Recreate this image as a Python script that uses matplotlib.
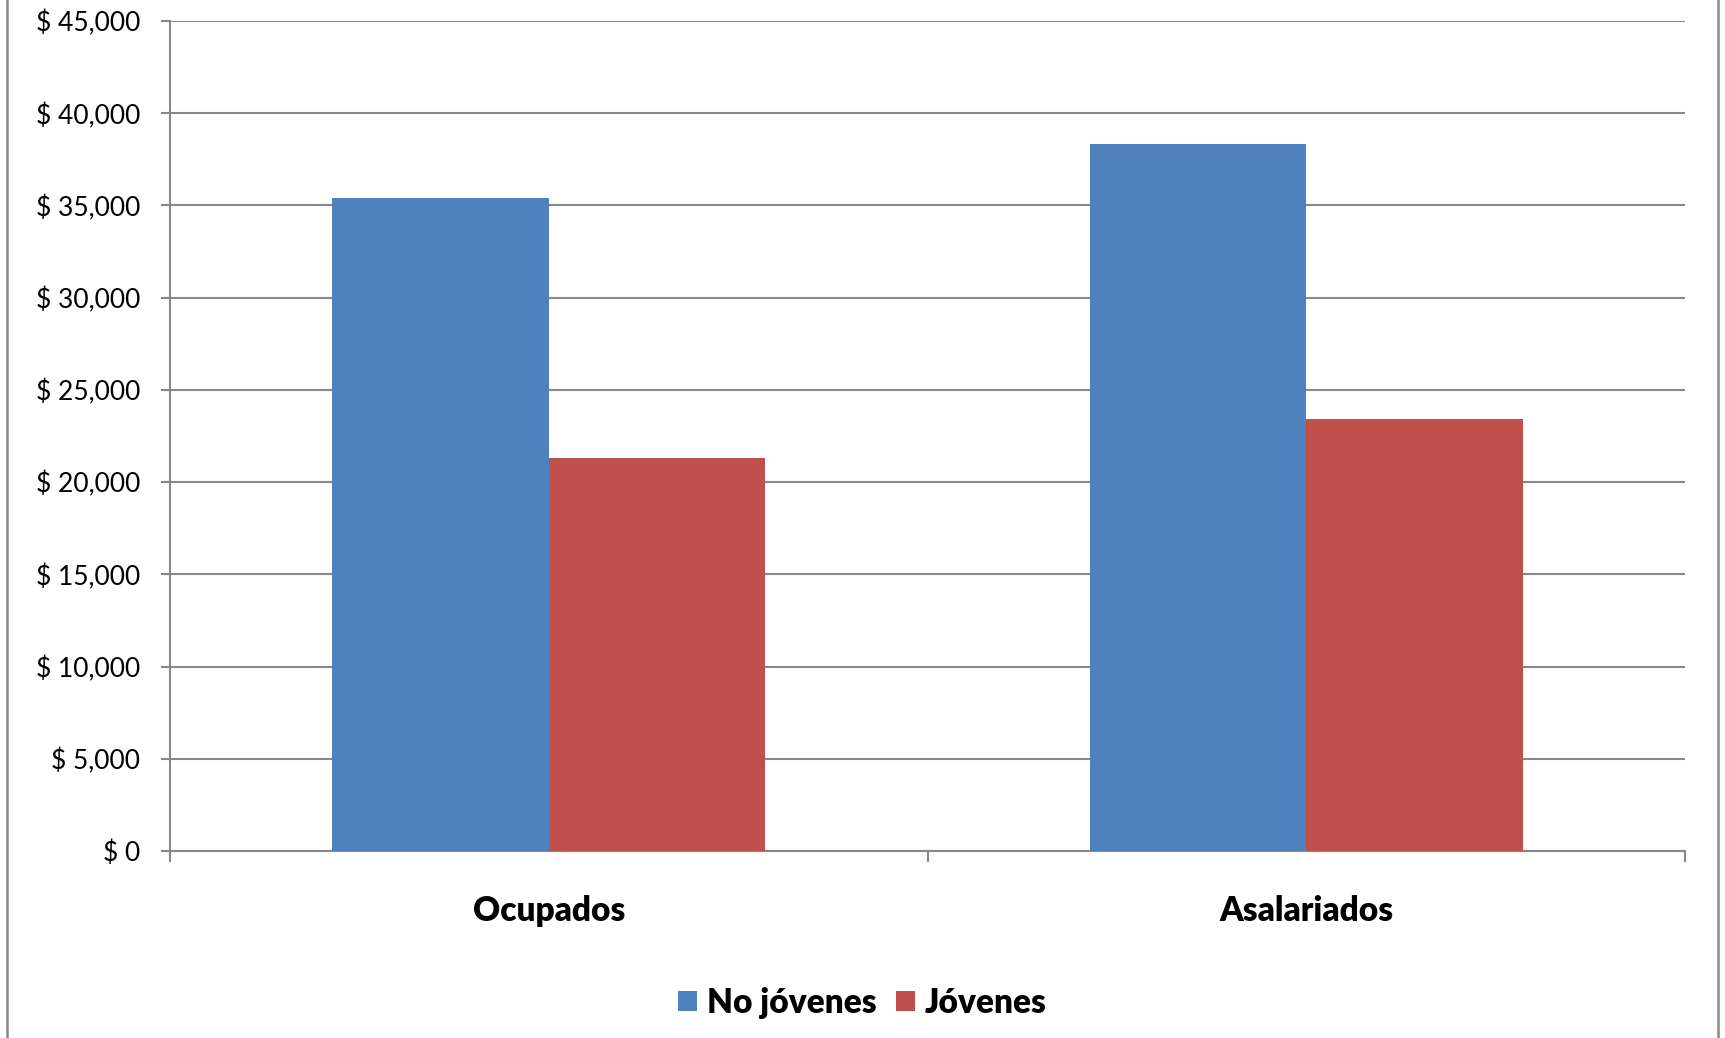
import matplotlib
matplotlib.use("Agg")
import matplotlib.pyplot as plt
import numpy as np
from matplotlib.lines import Line2D

plt.rcParams['font.family'] = ['Lato', 'DejaVu Sans']

categories = ["Ocupados", "Asalariados"]
series_names = ["No jóvenes", "Jóvenes"]
no_jovenes = [35400, 38350]
jovenes = [21330, 23400]
y_ticks = list(range(0, 45001, 5000))

blue = "#4F81BD"
red = "#C0504D"
grey = "#888888"

fig = plt.figure(figsize=(17.25, 10.38), dpi=100)
ax = fig.add_axes([170 / 1725, 1 - 851 / 1038, 1515 / 1725, 830 / 1038])

x = np.arange(len(categories))
w = 0.286
ax.bar(x - w / 2, no_jovenes, w, color=blue, label=series_names[0], zorder=3)
ax.bar(x + w / 2, jovenes, w, color=red, label=series_names[1], zorder=3)

ax.set_xlim(-0.5, len(categories) - 0.5)
ax.set_ylim(0, 45000)
ax.set_yticks(y_ticks)
ax.set_yticklabels(["$ {:,}".format(v) for v in y_ticks], fontsize=19)
ax.yaxis.grid(True, color=grey, linewidth=1.5, zorder=0)
ax.set_axisbelow(True)

# category labels between boundary ticks
ax.set_xticks(np.arange(-0.5, len(categories), 1.0))
ax.set_xticklabels([])
ax.set_xticks(x, minor=True)
ax.set_xticklabels(categories, minor=True, fontsize=24, fontweight='heavy')
ax.tick_params(axis='x', which='minor', length=0, pad=32)
ax.tick_params(axis='x', which='major', length=8, width=1.5, color=grey, direction='out')
ax.tick_params(axis='y', length=6.5, width=1.5, color=grey, pad=15)

for s in ['top', 'right']:
    ax.spines[s].set_visible(False)
for s in ['left', 'bottom']:
    ax.spines[s].set_color(grey)
    ax.spines[s].set_linewidth(1.5)

fig.legend(loc='center', bbox_to_anchor=(0.5, 1 - 1003 / 1038), ncol=2, frameon=False,
           prop={'size': 24, 'weight': 'heavy'}, handlelength=0.55, handleheight=0.55,
           handletextpad=0.3, columnspacing=0.6)

# outer chart border (left and right edges)
fig.add_artist(Line2D([7 / 1725, 7 / 1725], [0, 1], color=grey, linewidth=1.8))
fig.add_artist(Line2D([1718 / 1725, 1718 / 1725], [0, 1], color=grey, linewidth=1.8))

fig.savefig("out.png", dpi=100, facecolor="white")
